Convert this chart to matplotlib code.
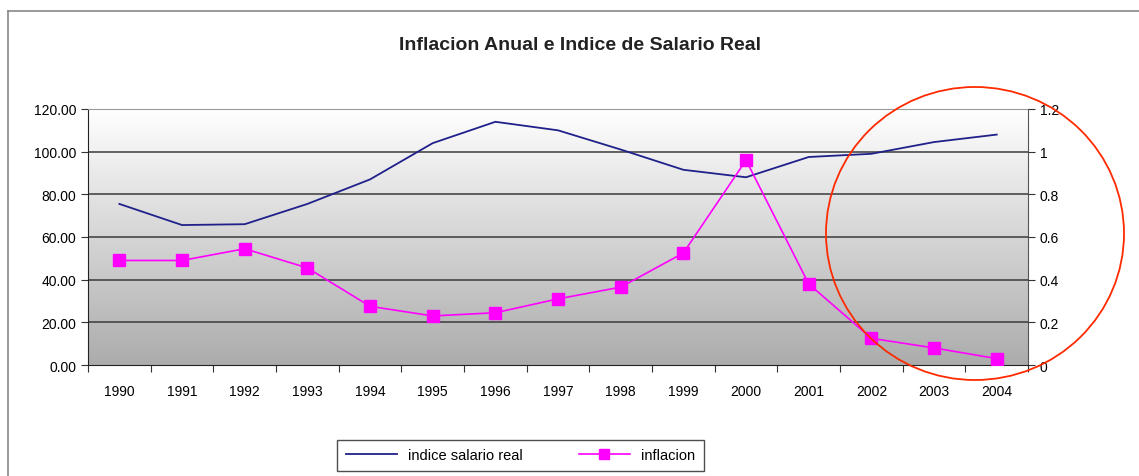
import numpy as np
import matplotlib.pyplot as plt
from matplotlib.patches import Ellipse
from matplotlib.lines import Line2D
from matplotlib.colors import LinearSegmentedColormap

plt.rcParams['font.family'] = ['Liberation Sans', 'DejaVu Sans']

years = ['1990', '1991', '1992', '1993', '1994', '1995', '1996', '1997',
         '1998', '1999', '2000', '2001', '2002', '2003', '2004']
salario = [75.5, 65.6, 66.0, 75.5, 87.0, 104.0, 114.0, 110.0,
           101.0, 91.5, 88.0, 97.5, 99.0, 104.5, 108.0]
inflacion = [0.49, 0.49, 0.545, 0.455, 0.275, 0.23, 0.245, 0.31,
             0.365, 0.525, 0.96, 0.38, 0.125, 0.08, 0.03]

x = np.arange(len(years))

fig = plt.figure(figsize=(11.39, 4.77), dpi=100)
ax = fig.add_axes([0.0773, 0.2327, 0.8253, 0.5367])

# fondo con degradado blanco -> gris
cmap = LinearSegmentedColormap.from_list('bg', ['#ffffff', '#acacac'])
grad = np.linspace(0, 1, 256).reshape(-1, 1)
ax.imshow(grad, aspect='auto', cmap=cmap, extent=[-0.5, 14.5, 0, 120],
          origin='upper', zorder=0)
ax.set_xlim(-0.5, 14.5)
ax.set_ylim(0, 120)
ax.set_yticks(np.arange(0, 121, 20))
ax.set_yticklabels(['%.2f' % v for v in np.arange(0, 121, 20)])
for v in range(20, 120, 20):
    ax.axhline(v, color='#3a3a3a', lw=1.1, zorder=1)

ax.plot(x, salario, color='#20208a', lw=1.3, zorder=3)

ax.set_xticks(np.arange(-0.5, 15, 1))
ax.set_xticklabels([])
ax.set_xticks(x, minor=True)
ax.set_xticklabels(years, minor=True)
ax.tick_params(axis='x', which='minor', length=0, pad=14, labelsize=10)
ax.tick_params(axis='x', which='major', length=5, color='#333')
ax.tick_params(axis='y', length=5, labelsize=10, color='#333')

for s in ['left', 'bottom']:
    ax.spines[s].set_color('#222')
ax.spines['top'].set_color('#999')
ax.spines['right'].set_color('#555')

ax2 = ax.twinx()
ax2.plot(x, inflacion, color='#ff00ff', lw=1.2, marker='s', markersize=8,
         zorder=4)
ax2.set_ylim(0, 1.2)
ax2.set_yticks([0, 0.2, 0.4, 0.6, 0.8, 1, 1.2])
ax2.set_yticklabels(['0', '0.2', '0.4', '0.6', '0.8', '1', '1.2'])
ax2.tick_params(axis='y', length=5, labelsize=10, color='#333')
for s in ax2.spines.values():
    s.set_visible(False)

fig.text(0.509, 0.905, 'Inflacion Anual e Indice de Salario Real',
         ha='center', va='center', fontsize=14, fontweight='bold',
         color='#222')

handles = [Line2D([], [], color='#20208a', lw=1.3),
           Line2D([], [], color='#ff00ff', lw=1.2, marker='s', markersize=7)]
leg = fig.legend(handles, ['indice salario real', 'inflacion'],
                 loc='center', bbox_to_anchor=(0.457, 0.043), ncol=2,
                 frameon=True, fancybox=False, fontsize=10.5,
                 handlelength=3.5, columnspacing=3.8, borderpad=0.6)
leg.get_frame().set_edgecolor('#222')
leg.get_frame().set_linewidth(1.0)

# marco exterior
fig.add_artist(Line2D([8 / 1139, 1], [1 - 12 / 477, 1 - 12 / 477],
                      color='#888', lw=1.2, transform=fig.transFigure))
fig.add_artist(Line2D([8 / 1139, 8 / 1139], [0, 1 - 12 / 477],
                      color='#888', lw=1.2, transform=fig.transFigure))

# circulo rojo
fig.add_artist(Ellipse((975 / 1139, 1 - 234.5 / 477), 298 / 1139, 293 / 477,
                       fill=False, edgecolor='#ff2a00', lw=1.3,
                       transform=fig.transFigure, zorder=10))

fig.savefig('out.png', dpi=100)
